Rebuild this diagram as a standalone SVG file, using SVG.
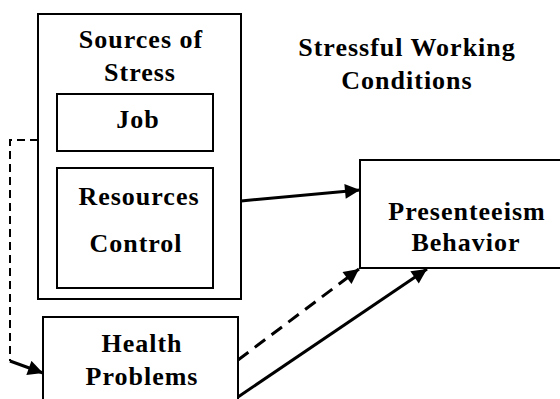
<svg xmlns="http://www.w3.org/2000/svg" width="560" height="399" viewBox="0 0 560 399">
<style>
.box{fill:#fff;stroke:#000;stroke-width:2}
.t{font-family:"Liberation Serif","Times New Roman",serif;font-weight:bold;font-size:26px;letter-spacing:1px;fill:#000;text-anchor:middle}
.c{fill:none;stroke:#000}
</style>
<defs>
<marker id="ah" viewBox="0 0 10 10" refX="10" refY="5" markerWidth="5.5" markerHeight="5" markerUnits="strokeWidth" orient="auto">
<path d="M0,0 L10,5 L0,10 z" fill="#000"/>
</marker>
</defs>
<rect width="560" height="399" fill="#fff"/>
<g id="sources">
<rect class="box" x="38" y="14" width="203" height="285"/>
<text class="t" x="141" y="48">Sources of</text>
<text class="t" x="140" y="81">Stress</text>
</g>
<g id="job">
<rect class="box" x="57" y="94" width="156" height="57"/>
<text class="t" x="138" y="128">Job</text>
</g>
<g id="resources">
<rect class="box" x="57" y="168" width="156" height="120"/>
<text class="t" x="139" y="205">Resources</text>
<text class="t" x="136" y="252">Control</text>
</g>
<g id="health">
<rect class="box" x="43" y="317" width="195" height="95"/>
<text class="t" x="142" y="352">Health</text>
<text class="t" x="142" y="385">Problems</text>
</g>
<g id="presenteeism">
<rect class="box" x="360" y="160" width="210" height="108"/>
<text class="t" x="467" y="220">Presenteeism</text>
<text class="t" x="466" y="251">Behavior</text>
</g>
<g id="title">
<text class="t" x="407" y="56">Stressful Working</text>
<text class="t" x="407" y="89">Conditions</text>
</g>
<g id="connectors">
<path class="c" d="M38,140 L10,140 L10,361" stroke-width="2" stroke-dasharray="8,5"/>
<path class="c" d="M10,361 L43,373" stroke-width="3" marker-end="url(#ah)"/>
<path class="c" d="M241,201 L360,190" stroke-width="3" marker-end="url(#ah)"/>
<path class="c" d="M238,360 L359,269" stroke-width="3" stroke-dasharray="13,8" marker-end="url(#ah)"/>
<path class="c" d="M238,397 L427,269" stroke-width="3" marker-end="url(#ah)"/>
</g>
</svg>
